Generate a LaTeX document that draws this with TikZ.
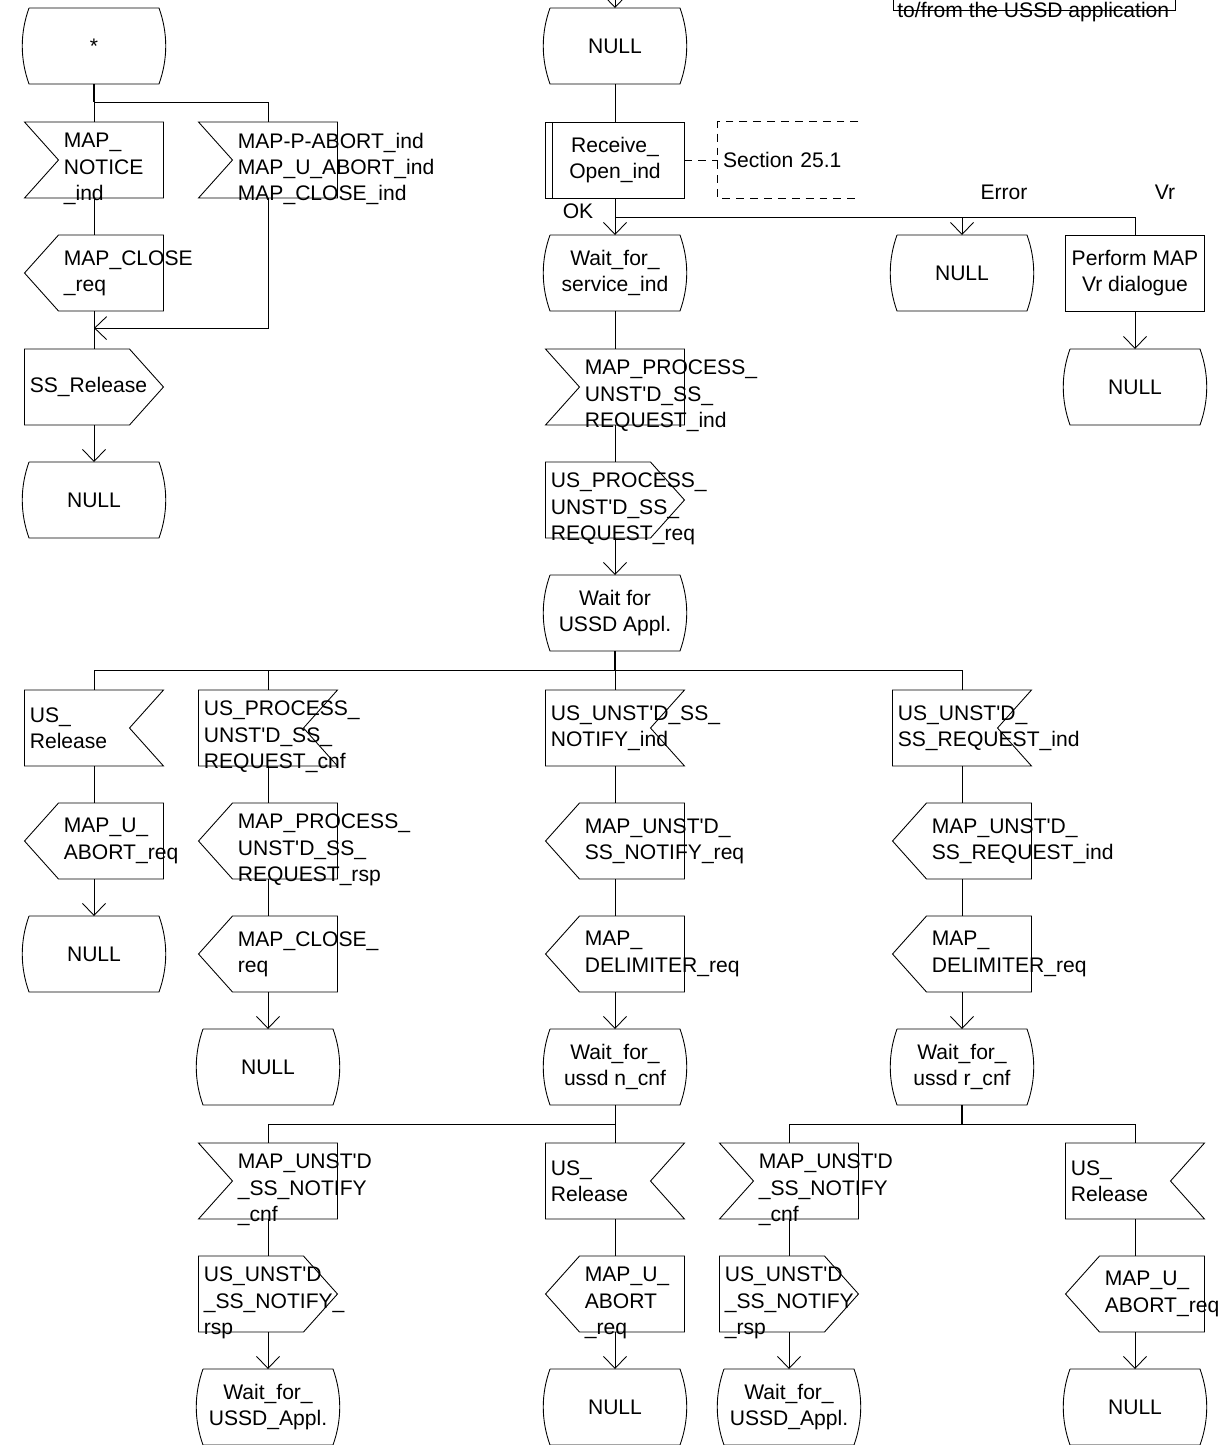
\documentclass[tikz,border=0pt]{standalone}
\usepackage{fontspec}
\setmainfont{Liberation Sans}
\usetikzlibrary{calc, positioning, arrows.meta}
\newcommand{\tq}{\textquotesingle}

\begin{document}
\begin{tikzpicture}[x=0.02cm, y=-0.02cm, >={Straight Barb[length=0.24cm,width=0.46cm]},
    every node/.append style={font=\fontsize{12}{15}\selectfont},
    wire/.style={draw=black, line width=0.5pt},
    stem/.style={draw=black, line width=1pt},
    low/.style={yshift=-0.18cm},
    sdl/.style={minimum width=2.78cm, minimum height=1.52cm, inner sep=0pt, outer sep=0pt},
    lbl/.style={align=left, inner sep=0pt, label distance=-2cm},
    lblR/.style={align=left, inner sep=0pt, label distance=-2.68cm},
    sdlstate/.style={sdl, minimum width=2.6cm, align=center,
      append after command={\pgfextra{\draw[wire] (\tikzlastnode.north west) -- (\tikzlastnode.north east)
        .. controls +(0.18cm,-0.5cm) and +(0.18cm,0.5cm) .. (\tikzlastnode.south east) -- (\tikzlastnode.south west)
        .. controls +(-0.18cm,0.5cm) and +(-0.18cm,-0.5cm) .. (\tikzlastnode.north west);}}},
    inL/.style 2 args={sdl, label={[lbl,#1]east:{#2}},
      append after command={\pgfextra{\draw[wire] (\tikzlastnode.north west) -- (\tikzlastnode.north east)
        -- (\tikzlastnode.south east) -- (\tikzlastnode.south west) -- ([xshift=0.68cm]\tikzlastnode.west) -- cycle;}}},
    inR/.style 2 args={sdl, label={[lblR,#1]east:{#2}},
      append after command={\pgfextra{\draw[wire] (\tikzlastnode.north west) -- (\tikzlastnode.north east)
        -- ([xshift=-0.68cm]\tikzlastnode.east) -- (\tikzlastnode.south east) -- (\tikzlastnode.south west) -- cycle;}}},
    outL/.style 2 args={sdl, label={[lbl,#1]east:{#2}},
      append after command={\pgfextra{\draw[wire] (\tikzlastnode.west) -- ([xshift=0.68cm]\tikzlastnode.north west)
        -- (\tikzlastnode.north east) -- (\tikzlastnode.south east) -- ([xshift=0.68cm]\tikzlastnode.south west) -- cycle;}}},
    outR/.style 2 args={sdl, label={[lblR,#1]east:{#2}},
      append after command={\pgfextra{\draw[wire] (\tikzlastnode.north west) -- ([xshift=-0.68cm]\tikzlastnode.north east)
        -- (\tikzlastnode.east) -- ([xshift=-0.68cm]\tikzlastnode.south east) -- (\tikzlastnode.south west) -- cycle;}}},
    task/.style={sdl, draw, line width=0.5pt, align=center},
    proc/.style={sdl, draw, line width=0.5pt, align=center,
      append after command={\pgfextra{\draw[wire] ([xshift=0.14cm]\tikzlastnode.north west) -- ([xshift=0.14cm]\tikzlastnode.south west);}}},
    cmt/.style={minimum width=2.8cm, minimum height=1.52cm, inner sep=0pt, text width=2.6cm, align=left,
      append after command={\pgfextra{\draw[wire, dash pattern=on 4.5pt off 3.4pt] (\tikzlastnode.north east)
        -- (\tikzlastnode.north west) -- (\tikzlastnode.south west) -- (\tikzlastnode.south east);}}},
    tag/.style={inner sep=0pt}]
  \useasboundingbox (0,0) rectangle (1228,1445);

  % Legend remnant
  \node[tag, anchor=base west] (legend) at (897,17) {to/from the USSD application};
  \draw[wire] (893,0) |- (1175,10.5) -- (1175,0);

  % Any state
  \node[sdlstate] (star) at (94,46) {*};
  \node[inL={low}{MAP\_\\NOTICE\\\_ind}] (notice) at (94,160) {};
  \node[inL={low}{MAP-P-ABORT\_ind\\MAP\_U\_ABORT\_ind\\MAP\_CLOSE\_ind}] (pabort) at (268,160) {};
  \node[outL={}{MAP\_CLOSE\\\_req}] (closeA) at (94,273) {};
  \node[outR={}{SS\_Release}] (ssrel) at (94,387) {};
  \node[sdlstate] (nullA) at (94,500) {NULL};

  \coordinate (jA) at ($(star.south)+(0,18)$);
  \coordinate (mA) at ($(closeA.south)!0.45!(ssrel.north)$);
  \draw[stem] (star.south) -- (jA);
  \draw[wire] (jA) -- (notice.north);
  \draw[wire] (jA) -| (pabort.north);
  \draw[wire] (notice.south) -- (closeA.north);
  \draw[wire] (closeA.south) -- (ssrel.north);
  \draw[wire, ->] (pabort.south) |- (mA);
  \draw[wire, ->] (ssrel.south) -- (nullA.north);

  % Idle state and dialogue opening
  \coordinate (in0) at (615,0);
  \node[sdlstate] (null0) at (615,46) {NULL};
  \node[proc] (recv) at (615,160) {Receive\_\\Open\_ind};
  \node[cmt] (sec) at (788,160) {Section 25.1};
  \node[sdlstate] (waitSvc) at (615,273) {Wait\_for\_\\service\_ind};
  \node[sdlstate] (nullE) at (962,273) {NULL};
  \node[task] (vr) at (1135,273) {Perform MAP\\Vr dialogue};
  \node[sdlstate] (nullVr) at (1135,387) {NULL};
  \node[tag] (ok) at (578,211) {OK};
  \node[tag] (err) at (1004,192) {Error};
  \node[tag] (vrlbl) at (1165,192) {Vr};

  \coordinate (jB) at ($(recv.south)+(0,19)$);
  \draw[wire, ->] (in0) -- (null0.north);
  \draw[wire] (null0.south) -- (recv.north);
  \draw[wire, dash pattern=on 4.5pt off 3.4pt] (recv.east) -- (sec.west);
  \draw[wire] (recv.south) -- (jB);
  \draw[wire, ->] (jB) -- (waitSvc.north);
  \draw[wire, ->] (jB) -| (nullE.north);
  \draw[wire] (jB) -| (vr.north);
  \draw[wire, ->] (vr.south) -- (nullVr.north);

  % Service request towards the application
  \node[inL={low}{MAP\_PROCESS\_\\UNST\tq D\_SS\_\\REQUEST\_ind}] (procInd) at (615,387) {};
  \node[outR={low}{US\_PROCESS\_\\UNST\tq D\_SS\_\\REQUEST\_req}] (procReq) at (615,500) {};
  \node[sdlstate] (waitAppl) at (615,613) {Wait for\\USSD Appl.};

  \draw[wire] (waitSvc.south) -- (procInd.north);
  \draw[wire] (procInd.south) -- (procReq.north);
  \draw[wire, ->] (procReq.south) -- (waitAppl.north);

  % Inputs from the USSD application
  \node[inR={}{US\_\\Release}] (usRelA) at (94,728) {};
  \node[inR={low}{US\_PROCESS\_\\UNST\tq D\_SS\_\\REQUEST\_cnf}] (usCnf) at (268,728) {};
  \node[inR={}{US\_UNST\tq D\_SS\_\\NOTIFY\_ind}] (usNotInd) at (615,728) {};
  \node[inR={}{US\_UNST\tq D\_\\SS\_REQUEST\_ind}] (usReqInd) at (962,728) {};

  \node[outL={}{MAP\_U\_\\ABORT\_req}] (abortA) at (94,841) {};
  \node[outL={low}{MAP\_PROCESS\_\\UNST\tq D\_SS\_\\REQUEST\_rsp}] (rspB) at (268,841) {};
  \node[outL={}{MAP\_UNST\tq D\_\\SS\_NOTIFY\_req}] (notReq) at (615,841) {};
  \node[outL={}{MAP\_UNST\tq D\_\\SS\_REQUEST\_ind}] (reqInd) at (962,841) {};

  \node[sdlstate] (nullB) at (94,954) {NULL};
  \node[outL={}{MAP\_CLOSE\_\\req}] (closeB) at (268,954) {};
  \node[outL={}{MAP\_\\DELIMITER\_req}] (delimN) at (615,954) {};
  \node[outL={}{MAP\_\\DELIMITER\_req}] (delimR) at (962,954) {};

  \node[sdlstate] (nullC) at (268,1067) {NULL};
  \node[sdlstate] (waitN) at (615,1067) {Wait\_for\_\\ussd n\_cnf};
  \node[sdlstate] (waitR) at (962,1067) {Wait\_for\_\\ussd r\_cnf};

  \coordinate (jC) at ($(waitAppl.south)+(0,19)$);
  \draw[stem] (waitAppl.south) -- (jC);
  \draw[wire] (jC) -| (usRelA.north);
  \draw[wire] (jC) -| (usCnf.north);
  \draw[wire] (jC) -- (usNotInd.north);
  \draw[wire] (jC) -| (usReqInd.north);
  \draw[wire] (usRelA.south) -- (abortA.north);
  \draw[wire, ->] (abortA.south) -- (nullB.north);
  \draw[wire] (usCnf.south) -- (rspB.north);
  \draw[wire] (rspB.south) -- (closeB.north);
  \draw[wire, ->] (closeB.south) -- (nullC.north);
  \draw[wire] (usNotInd.south) -- (notReq.north);
  \draw[wire] (notReq.south) -- (delimN.north);
  \draw[wire, ->] (delimN.south) -- (waitN.north);
  \draw[wire] (usReqInd.south) -- (reqInd.north);
  \draw[wire] (reqInd.south) -- (delimR.north);
  \draw[wire, ->] (delimR.south) -- (waitR.north);

  % Confirmations and release
  \node[inL={low}{MAP\_UNST\tq D\\\_SS\_NOTIFY\\\_cnf}] (cnfN) at (268,1181) {};
  \node[inR={}{US\_\\Release}] (usRelN) at (615,1181) {};
  \node[inL={low}{MAP\_UNST\tq D\\\_SS\_NOTIFY\\\_cnf}] (cnfR) at (789,1181) {};
  \node[inR={}{US\_\\Release}] (usRelR) at (1135,1181) {};

  \node[outR={low}{US\_UNST\tq D\\\_SS\_NOTIFY\_\\rsp}] (rspN) at (268,1294) {};
  \node[outL={low}{MAP\_U\_\\ABORT\\\_req}] (abortN) at (615,1294) {};
  \node[outR={low}{US\_UNST\tq D\\\_SS\_NOTIFY\\\_rsp}] (rspR) at (789,1294) {};
  \node[outL={}{MAP\_U\_\\ABORT\_req}] (abortR) at (1135,1294) {};

  \node[sdlstate] (waitApplN) at (268,1407) {Wait\_for\_\\USSD\_Appl.};
  \node[sdlstate] (nullN) at (615,1407) {NULL};
  \node[sdlstate] (waitApplR) at (789,1407) {Wait\_for\_\\USSD\_Appl.};
  \node[sdlstate] (nullR) at (1135,1407) {NULL};

  \coordinate (jD) at ($(waitN.south)+(0,19)$);
  \coordinate (jE) at ($(waitR.south)+(0,19)$);
  \draw[wire] (waitN.south) -- (jD);
  \draw[wire] (jD) -| (cnfN.north);
  \draw[wire] (jD) -- (usRelN.north);
  \draw[stem] (waitR.south) -- (jE);
  \draw[wire] (jE) -| (cnfR.north);
  \draw[wire] (jE) -| (usRelR.north);
  \draw[wire] (cnfN.south) -- (rspN.north);
  \draw[wire, ->] (rspN.south) -- (waitApplN.north);
  \draw[wire] (usRelN.south) -- (abortN.north);
  \draw[wire, ->] (abortN.south) -- (nullN.north);
  \draw[wire] (cnfR.south) -- (rspR.north);
  \draw[wire, ->] (rspR.south) -- (waitApplR.north);
  \draw[wire] (usRelR.south) -- (abortR.north);
  \draw[wire, ->] (abortR.south) -- (nullR.north);
\end{tikzpicture}
\end{document}
